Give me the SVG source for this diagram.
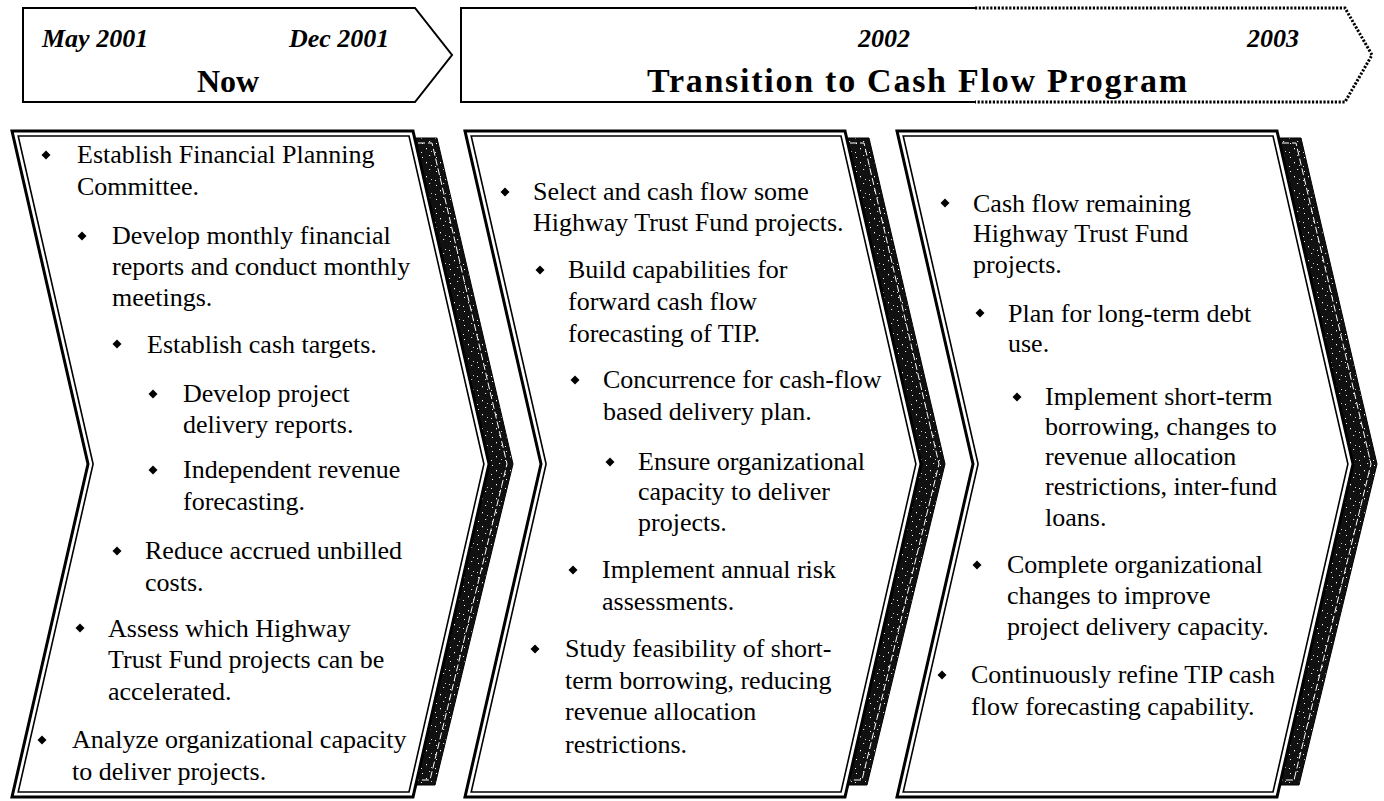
<svg xmlns="http://www.w3.org/2000/svg" width="1384" height="801" viewBox="0 0 1384 801">
  <defs>
    <pattern id="speck" width="14" height="14" patternUnits="userSpaceOnUse">
      <rect width="14" height="14" fill="#111"/>
      <rect x="2" y="3" width="1" height="1" fill="#fff"/>
      <rect x="9" y="1" width="1.2" height="1" fill="#ddd"/>
      <rect x="6" y="8" width="1" height="1.3" fill="#fff"/>
      <rect x="11" y="11" width="1" height="1" fill="#ccc"/>
      <rect x="1" y="12" width="1" height="1" fill="#eee"/>
    </pattern>
    <polygon id="dia" points="0,-4.5 4.5,0 0,4.5 -4.5,0" fill="#000"/>
  </defs>
  <style>
    .outer { fill: #fff; stroke: #000; stroke-width: 3; stroke-linejoin: miter; }
    .inner { fill: none; stroke: #000; stroke-width: 1.6; stroke-linejoin: miter; }
    .shadow { fill: url(#speck); stroke: #000; stroke-width: 1; }
    .shline { fill: none; stroke: #fff; stroke-width: 1; stroke-dasharray: 7 3; }
    .hdr { fill: #fff; stroke: #000; stroke-width: 2; }
    .dot { fill: none; stroke: #000; stroke-width: 3; stroke-dasharray: 2.2 1.6; }
    .solid { fill: none; stroke: #000; stroke-width: 2; }
    text { font-family: "Liberation Serif", "Times New Roman", serif; fill: #000; }
    .b { font-size: 26px; }
    .date { font-size: 26px; font-weight: bold; font-style: italic; }
    .title { font-size: 32px; font-weight: bold; text-anchor: middle; }
  </style>

  <g id="header-now">
    <polygon class="hdr" points="23,8 415,8 452,55 415,102 23,102"/>
    <text class="date" x="42" y="47">May 2001</text>
    <text class="date" x="289" y="47">Dec 2001</text>
    <text class="title" x="228" y="92">Now</text>
  </g>

  <g id="header-transition">
    <path class="solid" d="M975,8 L461,8 L461,102 L975,102"/>
    <path class="dot" d="M975,8 L1345,8 L1372,55 L1345,102 L975,102"/>
    <text class="date" x="858" y="47">2002</text>
    <text class="date" x="1247" y="47">2003</text>
    <text class="title" x="917" y="92" style="font-size:34px" textLength="540" lengthAdjust="spacing">Transition to Cash Flow Program</text>
  </g>

  <g id="phase-now">
    <polygon class="shadow" points="403,138 437,138 513,464 435,785 403,785"/>
    <polyline class="shline" points="418,143 432,143 507,464 430,780 418,780"/>
    <polygon class="outer" points="12,131 413,131 489,464 413,797 12,797 88,464"/>
    <polygon class="inner" points="18.2,136 409,136 483.9,464 409,792 18.2,792 93.1,464"/>
    <use href="#dia" x="46" y="155"/>
    <text class="b" x="77" y="163">Establish Financial Planning</text>
    <text class="b" x="77" y="195">Committee.</text>
    <use href="#dia" x="82" y="236"/>
    <text class="b" x="112" y="244">Develop monthly financial</text>
    <text class="b" x="112" y="275">reports and conduct monthly</text>
    <text class="b" x="112" y="306">meetings.</text>
    <use href="#dia" x="117" y="344"/>
    <text class="b" x="147" y="353">Establish cash targets.</text>
    <use href="#dia" x="153" y="394"/>
    <text class="b" x="183" y="402">Develop project</text>
    <text class="b" x="183" y="433">delivery reports.</text>
    <use href="#dia" x="153" y="470"/>
    <text class="b" x="183" y="478">Independent revenue</text>
    <text class="b" x="183" y="510">forecasting.</text>
    <use href="#dia" x="117" y="551"/>
    <text class="b" x="145" y="559">Reduce accrued unbilled</text>
    <text class="b" x="145" y="591">costs.</text>
    <use href="#dia" x="80" y="628"/>
    <text class="b" x="108" y="637">Assess which Highway</text>
    <text class="b" x="108" y="668">Trust Fund projects can be</text>
    <text class="b" x="108" y="700">accelerated.</text>
    <use href="#dia" x="42" y="740"/>
    <text class="b" x="72" y="748">Analyze organizational capacity</text>
    <text class="b" x="72" y="780">to deliver projects.</text>
  </g>

  <g id="phase-2002">
    <polygon class="shadow" points="835,138 869,138 945,464 867,785 835,785"/>
    <polyline class="shline" points="850,143 864,143 939,464 862,780 850,780"/>
    <polygon class="outer" points="465,131 845,131 921,464 845,797 465,797 541,464"/>
    <polygon class="inner" points="471.2,136 841,136 915.9,464 841,792 471.2,792 546.1,464"/>
    <use href="#dia" x="505" y="192"/>
    <text class="b" x="533" y="200">Select and cash flow some</text>
    <text class="b" x="533" y="231">Highway Trust Fund projects.</text>
    <use href="#dia" x="540" y="270"/>
    <text class="b" x="568" y="278">Build capabilities for</text>
    <text class="b" x="568" y="310">forward cash flow</text>
    <text class="b" x="568" y="342">forecasting of TIP.</text>
    <use href="#dia" x="575" y="380"/>
    <text class="b" x="603" y="388">Concurrence for cash-flow</text>
    <text class="b" x="603" y="420">based delivery plan.</text>
    <use href="#dia" x="610" y="462"/>
    <text class="b" x="638" y="470">Ensure organizational</text>
    <text class="b" x="638" y="500">capacity to deliver</text>
    <text class="b" x="638" y="531">projects.</text>
    <use href="#dia" x="573" y="570"/>
    <text class="b" x="602" y="578">Implement annual risk</text>
    <text class="b" x="602" y="610">assessments.</text>
    <use href="#dia" x="535" y="649"/>
    <text class="b" x="565" y="657">Study feasibility of short-</text>
    <text class="b" x="565" y="689">term borrowing, reducing</text>
    <text class="b" x="565" y="720">revenue allocation</text>
    <text class="b" x="565" y="753">restrictions.</text>
  </g>

  <g id="phase-2003">
    <polygon class="shadow" points="1267,138 1301,138 1377,464 1299,785 1267,785"/>
    <polyline class="shline" points="1282,143 1296,143 1371,464 1294,780 1282,780"/>
    <polygon class="outer" points="897,131 1277,131 1353,464 1277,797 897,797 973,464"/>
    <polygon class="inner" points="903.2,136 1273,136 1347.9,464 1273,792 903.2,792 978.1,464"/>
    <use href="#dia" x="945" y="203"/>
    <text class="b" x="973" y="212">Cash flow remaining</text>
    <text class="b" x="973" y="242">Highway Trust Fund</text>
    <text class="b" x="973" y="273">projects.</text>
    <use href="#dia" x="980" y="313"/>
    <text class="b" x="1008" y="322">Plan for long-term debt</text>
    <text class="b" x="1008" y="352">use.</text>
    <use href="#dia" x="1017" y="397"/>
    <text class="b" x="1045" y="405">Implement short-term</text>
    <text class="b" x="1045" y="435">borrowing, changes to</text>
    <text class="b" x="1045" y="465">revenue allocation</text>
    <text class="b" x="1045" y="495">restrictions, inter-fund</text>
    <text class="b" x="1045" y="526">loans.</text>
    <use href="#dia" x="977" y="565"/>
    <text class="b" x="1007" y="573">Complete organizational</text>
    <text class="b" x="1007" y="604">changes to improve</text>
    <text class="b" x="1007" y="635">project delivery capacity.</text>
    <use href="#dia" x="942" y="675"/>
    <text class="b" x="971" y="683">Continuously refine TIP cash</text>
    <text class="b" x="971" y="715">flow forecasting capability.</text>
  </g>
</svg>
